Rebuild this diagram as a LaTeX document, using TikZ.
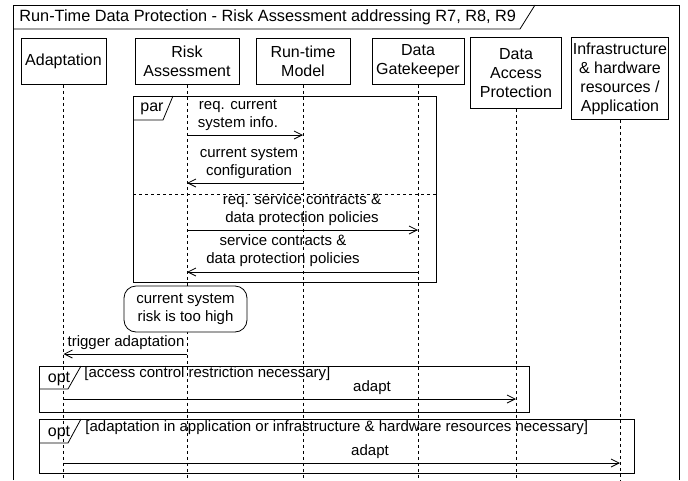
\documentclass[tikz,border=0pt]{standalone}
\usepackage{fontspec}
\setmainfont{Liberation Sans}
\usetikzlibrary{arrows.meta,positioning}
\begin{document}
\begin{tikzpicture}[x=1pt,y=-1pt,line width=0.8pt,
    head/.style={draw,align=center,inner sep=1pt,minimum height=46pt,
      font=\fontsize{16}{19}\selectfont},
    lifeline/.style={dash pattern=on 3pt off 3pt},
    msg/.style={-{Straight Barb[length=8pt,width=8pt]}},
    lbl/.style={align=center,inner sep=1pt,anchor=south,
      font=\fontsize{15}{17.5}\selectfont},
    tag/.style={inner sep=1pt,font=\fontsize{16}{19}\selectfont}]
\useasboundingbox (0,0) rectangle (688,480);
% outer frame with title
\draw (13,480) -- (13,5) -- (679,5) -- (679,480);
\draw (13,29) -- (520,29) -- (535,5);
\node[tag,anchor=west,font=\fontsize{16.3}{19}\selectfont] (title) at (18,17) {Run-Time Data Protection - Risk Assessment addressing R7, R8, R9};
% lifeline heads
\node[head,anchor=north,minimum width=85pt] (ad) at (63.5,38) {Adaptation};
\node[head,anchor=north,minimum width=104pt] (ra) at (187,38) {Risk\\Assessment};
\node[head,anchor=north,minimum width=94pt] (rm) at (303,38) {Run-time\\Model};
\node[head,anchor=north,minimum width=92pt] (dg) at (418,38) {Data\\Gatekeeper};
\node[head,anchor=north,minimum width=91pt,minimum height=71pt] (dap) at (516,37) {Data\\Access\\Protection};
\node[head,anchor=north,minimum width=96pt,minimum height=82pt] (infra) at (620,37) {Infrastructure\\\& hardware\\resources /\\Application};
% lifelines
\foreach \n in {ad,ra,rm,dg,dap,infra}
  \draw[lifeline] (\n.south) -- (\n.south |- 0,480);
% par fragment
\draw (133,96) rectangle (436,282);
\draw (133,120) -- (163,120) -- (173,96);
\node[tag] (par) at (152,109) {par};
\draw[lifeline] (133,194) -- (436,194);
\draw[msg] (ra.south |- 0,135) -- (rm.south |- 0,135);
\node[lbl] (m1) at (238,132) {req. current\\system info.};
\draw[msg] (rm.south |- 0,183) -- (ra.south |- 0,183);
\node[lbl] (m2) at (249,180) {current system\\configuration};
\draw[msg] (ra.south |- 0,230) -- (dg.south |- 0,230);
\node[lbl] (m3) at (302,227) {req. service contracts \&\\data protection policies};
\draw[msg] (dg.south |- 0,272) -- (ra.south |- 0,272);
\node[lbl] (m4) at (283,268) {service contracts \&\\data protection policies};
% state note
\node[draw,fill=white,rounded corners=12pt,align=center,inner sep=1pt,
  minimum width=123pt,minimum height=46pt,font=\fontsize{15}{18}\selectfont] (risk) at (185.5,309) {current system\\risk is too high};
\draw[msg] (ra.south |- 0,354) -- (ad.south |- 0,354);
\node[lbl] (m5) at (126,351) {trigger adaptation};
% opt fragments
\draw (39,366) rectangle (529,412);
\draw (39,389) -- (68,389) -- (81,366);
\node[tag] (opt1) at (59,379) {opt};
\node[lbl,anchor=west] (g1) at (83,374) {[access control restriction necessary]};
\draw[msg] (ad.south |- 0,399) -- (dap.south |- 0,399);
\node[lbl] (m6) at (372,396) {adapt};
\draw (39,419) rectangle (634,473);
\draw (39,443) -- (68,443) -- (81,419);
\node[tag] (opt2) at (59,433) {opt};
\node[lbl,anchor=west] (g2) at (84,428) {[adaptation in application or infrastructure \& hardware resources necessary]};
\draw[msg] (ad.south |- 0,463) -- (infra.south |- 0,463);
\node[lbl] (m7) at (370,460) {adapt};
\end{tikzpicture}
\end{document}
